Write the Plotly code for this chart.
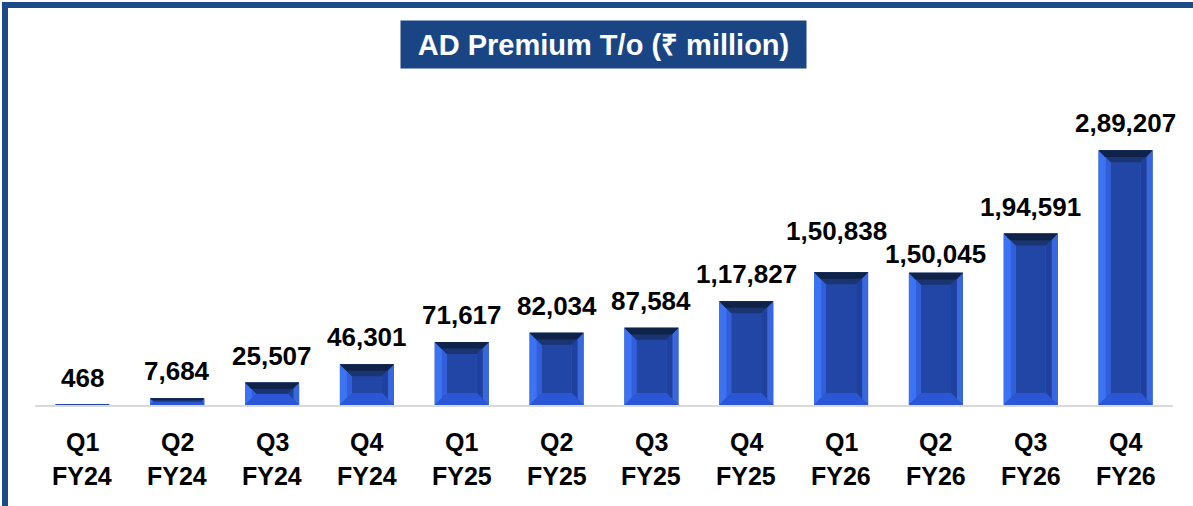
import plotly.graph_objects as go

# ---- data ----
quarters = ["Q1", "Q2", "Q3", "Q4", "Q1", "Q2", "Q3", "Q4", "Q1", "Q2", "Q3", "Q4"]
fiscal_years = ["FY24", "FY24", "FY24", "FY24", "FY25", "FY25", "FY25", "FY25",
                "FY26", "FY26", "FY26", "FY26"]
premium = [468, 7684, 25507, 46301, 71617, 82034, 87584, 117827,
           150838, 150045, 194591, 289207]
title_text = "AD Premium T/o (₹ million)"


def indian_format(n):
    s = str(int(n))
    if len(s) <= 3:
        return s
    head, tail = s[:-3], s[-3:]
    parts = []
    while len(head) > 2:
        parts.insert(0, head[-2:])
        head = head[:-2]
    if head:
        parts.insert(0, head)
    return ",".join(parts) + "," + tail


# ---- layout geometry ----
W, H = 1193, 506
ML, MR, MT, MB = 35, 20, 80, 101
plot_w = W - ML - MR
plot_h = H - MT - MB
ymax = 369000
ncat = len(premium)
px_per_cat = plot_w / ncat
units_per_px = ymax / plot_h
bar_w = 0.57

xs = list(range(ncat))
FONT = "Liberation Sans, Arial, sans-serif"

fig = go.Figure()
fig.add_trace(go.Bar(
    x=xs, y=premium, width=bar_w,
    marker=dict(color="#2246a6", line=dict(width=0)),
    hoverinfo="skip", showlegend=False,
))

# bevel facets
shapes = []
for i, v in enumerate(premium):
    h_px = v / units_per_px
    if h_px < 1:
        continue
    b_px = min(12, h_px / 2)
    bx = b_px / px_per_cat
    by = b_px * units_per_px
    x0, x1 = i - bar_w / 2, i + bar_w / 2

    def poly(pts, color):
        path = "M " + " L ".join(f"{px},{py}" for px, py in pts) + " Z"
        shapes.append(dict(type="path", path=path, xref="x", yref="y",
                           fillcolor=color, line=dict(width=0), layer="above"))

    # left (outer bright + inner softer)
    poly([(x0, 0), (x0, v), (x0 + bx, v - by), (x0 + bx, by)], "#3c72f4")
    poly([(x0 + bx * 0.6, by * 0.6), (x0 + bx * 0.6, v - by * 0.6), (x0 + bx, v - by), (x0 + bx, by)], "#325fd8")
    # right (outer + inner darker strip)
    poly([(x1, 0), (x1, v), (x1 - bx, v - by), (x1 - bx, by)], "#3a68dc")
    poly([(x1 - bx / 2, by / 2), (x1 - bx / 2, v - by / 2), (x1 - bx, v - by), (x1 - bx, by)], "#1f409c")
    # bottom
    poly([(x0, 0), (x1, 0), (x1 - bx, by), (x0 + bx, by)], "#2b57d6")
    # top (outer dark + inner band)
    poly([(x0, v), (x1, v), (x1 - bx, v - by), (x0 + bx, v - by)], "#1a3572")
    poly([(x0, v), (x1, v), (x1 - bx * 0.55, v - by * 0.55), (x0 + bx * 0.55, v - by * 0.55)], "#0f2248")


def px_to_paper_x(px):
    return (px - ML) / plot_w


def px_to_paper_y(py):
    return (H - MB - py) / plot_h


# frame lines (top and left)
shapes.append(dict(type="line", xref="paper", yref="paper",
                   x0=px_to_paper_x(2), x1=px_to_paper_x(W + 5),
                   y0=px_to_paper_y(5), y1=px_to_paper_y(5),
                   line=dict(color="#1d4a88", width=6)))
shapes.append(dict(type="line", xref="paper", yref="paper",
                   x0=px_to_paper_x(5), x1=px_to_paper_x(5),
                   y0=px_to_paper_y(2), y1=px_to_paper_y(H + 5),
                   line=dict(color="#1d4a88", width=6)))

# label nudges (pixels) for the two crowded labels
label_nudge = {8: (-5, 41), 9: (0, 19)}

annotations = []
# value labels
for i, v in enumerate(premium):
    dx, dy = label_nudge.get(i, (0, 27))
    annotations.append(dict(x=i, y=v, xref="x", yref="y", text=indian_format(v),
                            showarrow=False, yanchor="middle", yshift=dy, xshift=dx,
                            font=dict(family=FONT, size=26, color="black", weight="bold")))
# category labels (two lines)
for i, (q, fy) in enumerate(zip(quarters, fiscal_years)):
    annotations.append(dict(x=i, y=px_to_paper_y(442), xref="x", yref="paper", text=q,
                            showarrow=False, yanchor="middle",
                            font=dict(family=FONT, size=25, color="black", weight="bold")))
    annotations.append(dict(x=i, y=px_to_paper_y(475.5), xref="x", yref="paper", text=fy,
                            showarrow=False, yanchor="middle",
                            font=dict(family=FONT, size=25, color="black", weight="bold")))
# title box
annotations.append(dict(x=px_to_paper_x(603.5), y=px_to_paper_y(44.5), xref="paper", yref="paper",
                        text=title_text, showarrow=False, xanchor="center", yanchor="middle",
                        bgcolor="#1a4585", width=405, height=47, borderpad=0,
                        font=dict(family=FONT, size=29, color="white", weight="bold")))

fig.update_layout(
    width=W, height=H,
    margin=dict(l=ML, r=MR, t=MT, b=MB),
    paper_bgcolor="white", plot_bgcolor="white",
    xaxis=dict(range=[-0.5, ncat - 0.5], showticklabels=False, showgrid=False,
               zeroline=False, showline=True, linecolor="#d9d9d9", linewidth=2,
               ticks="", fixedrange=True),
    yaxis=dict(range=[0, ymax], visible=False, showgrid=False, zeroline=False, fixedrange=True),
    shapes=shapes,
    annotations=annotations,
    bargap=0.43,
    showlegend=False,
)

fig.write_html("out.html", config={"displayModeBar": False},
               post_script="document.body.style.margin='0';document.body.style.overflow='hidden';")
